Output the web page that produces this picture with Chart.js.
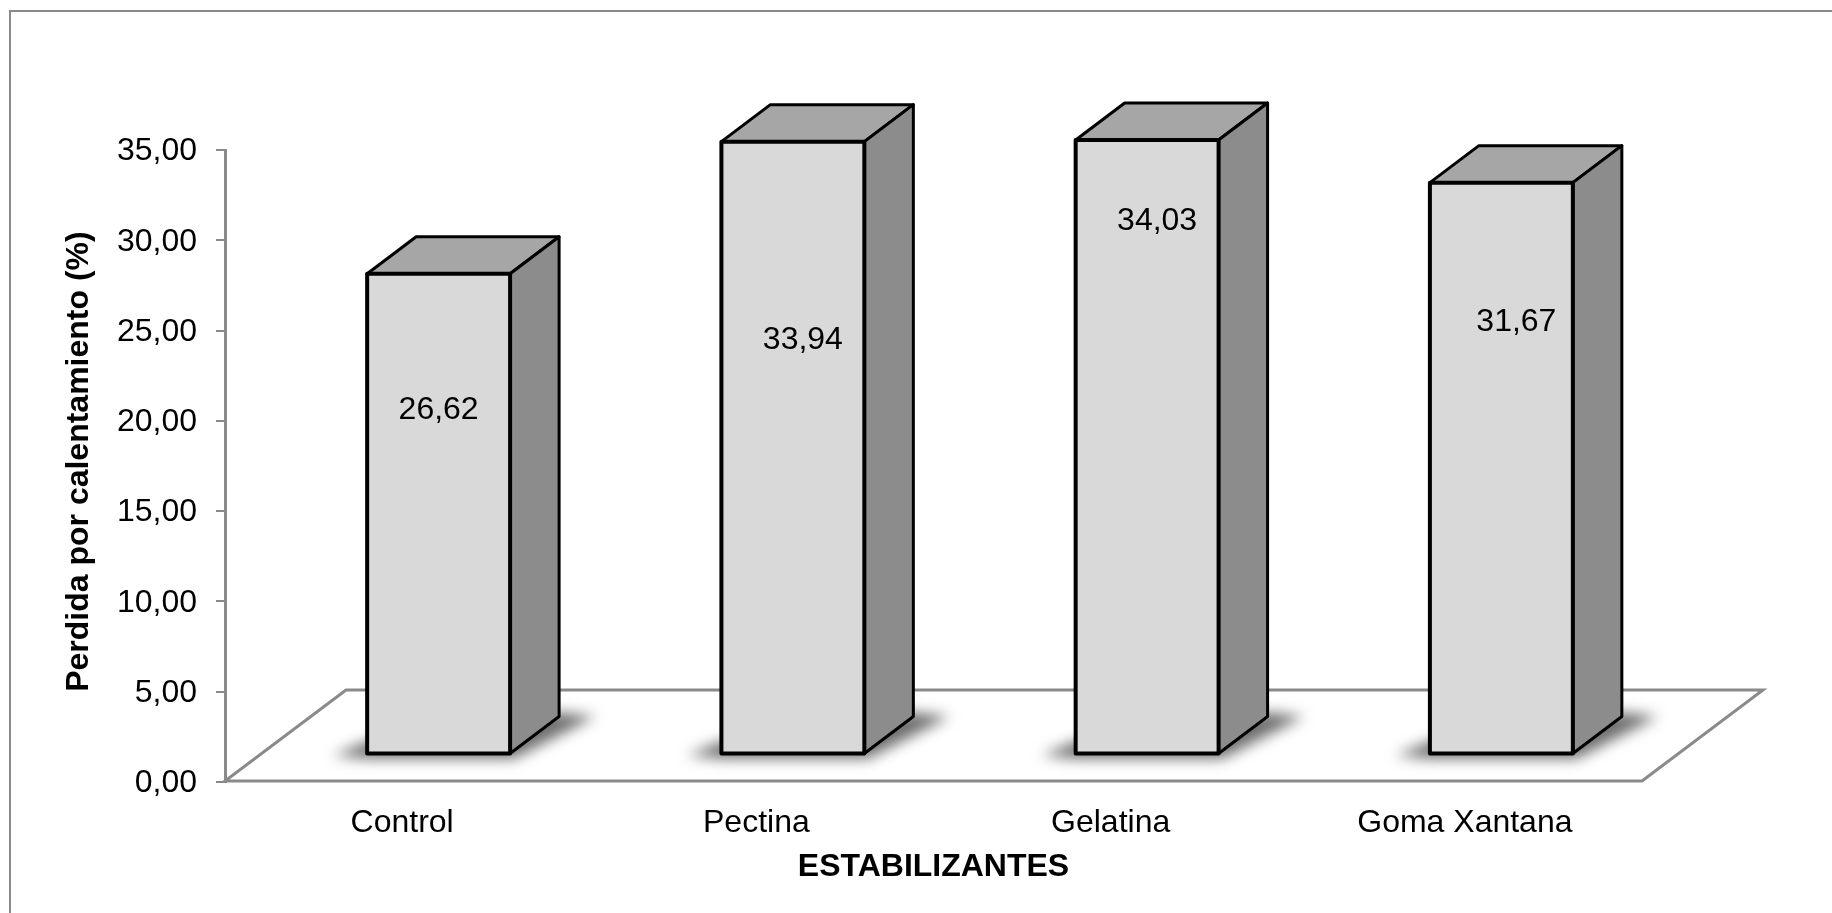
<!DOCTYPE html>
<html lang="es">
<head>
<meta charset="utf-8">
<title>Perdida por calentamiento</title>
<script src="https://cdn.jsdelivr.net/npm/chart.js@4"></script>
<style>
    html, body { margin: 0; padding: 0; background: #fff; }
    canvas { display: block; }
</style>
</head>
<body>
<canvas id="grafico" width="1832" height="913"></canvas>
<script>
// Datos del grafico
const categorias = ['Control', 'Pectina', 'Gelatina', 'Goma Xantana'];
const perdida = [26.62, 33.94, 34.03, 31.67];

// Aspecto seudo 3D de las barras y del piso
const GRIS = '#8a8a8a';
const FUENTE = '"Liberation Sans", Arial, sans-serif';
const desplazaX = 36.5, desplazaY = -27.5;  // la cara frontal queda sobre el piso
const fondoX = 49, fondoY = -37;            // profundidad de cada barra
const pisoX = 121, pisoY = -91;             // profundidad del piso
const etiquetaX = [0, 10, 10, 15];          // corrimiento de cada rotulo de valor
const etiquetaY = [410, 340, 221, 322];     // altura de cada rotulo de valor

const coma = v => v.toFixed(2).replace('.', ',');

function poligono(ctx, puntos) {
    ctx.beginPath();
    puntos.forEach((p, i) => i ? ctx.lineTo(p[0], p[1]) : ctx.moveTo(p[0], p[1]));
    ctx.closePath();
}

// Piso y sombras, por debajo de las barras
const piso = {
    id: 'piso',
    beforeDatasetsDraw(chart) {
        const { ctx, chartArea: a, scales: { y } } = chart;
        const y0 = y.getPixelForValue(0) - 1;

        // marco exterior, solo se ven los lados superior e izquierdo
        ctx.save();
        ctx.strokeStyle = GRIS;
        ctx.lineWidth = 2;
        ctx.beginPath();
        ctx.moveTo(10, 913);
        ctx.lineTo(10, 11);
        ctx.lineTo(1832, 11);
        ctx.stroke();

        ctx.lineWidth = 3;
        ctx.lineJoin = 'miter';
        poligono(ctx, [[a.left, y0], [a.right, y0], [a.right + pisoX, y0 + pisoY], [a.left + pisoX, y0 + pisoY]]);
        ctx.stroke();

        ctx.filter = 'blur(7px)';
        ctx.fillStyle = '#6e6e6e';
        chart.getDatasetMeta(0).data.forEach(b => {
            const izq = b.x - b.width / 2 + desplazaX, der = izq + b.width, base = b.base + desplazaY;
            poligono(ctx, [
                [izq - 34, base + 2], [izq, base - 12], [der + fondoX, base + fondoY - 4],
                [der + fondoX + 36, base + fondoY], [der + 4, base + 5], [izq, base + 5]
            ]);
            ctx.fill();
        });
        ctx.restore();
    }
};

// Caras superior y lateral de cada barra, y la cara frontal movida sobre el piso
const barras3d = {
    id: 'barras3d',
    beforeDatasetDraw(chart) {
        const { ctx } = chart;
        ctx.save();
        ctx.translate(desplazaX, desplazaY);
        ctx.lineWidth = 3;
        ctx.lineJoin = 'round';
        ctx.strokeStyle = '#000';
        chart.getDatasetMeta(0).data.forEach(b => {
            const izq = b.x - b.width / 2, der = b.x + b.width / 2;
            poligono(ctx, [[izq, b.y], [izq + fondoX, b.y + fondoY], [der + fondoX, b.y + fondoY], [der, b.y]]);
            ctx.fillStyle = '#a6a6a6';
            ctx.fill();
            ctx.stroke();
            poligono(ctx, [[der, b.y], [der + fondoX, b.y + fondoY], [der + fondoX, b.base + fondoY], [der, b.base]]);
            ctx.fillStyle = '#8c8c8c';
            ctx.fill();
            ctx.stroke();
        });
    },
    afterDatasetDraw(chart) {
        const { ctx } = chart;
        // contorno de la cara frontal, centrado sobre el borde de la barra
        ctx.lineWidth = 4;
        chart.getDatasetMeta(0).data.forEach(b => {
            ctx.strokeRect(b.x - b.width / 2, b.y, b.width, b.base - b.y);
        });
        ctx.restore();
    },
    afterDatasetsDraw(chart) {
        const { ctx } = chart;
        ctx.save();
        ctx.font = '32px ' + FUENTE;
        ctx.fillStyle = '#000';
        ctx.textAlign = 'center';
        ctx.textBaseline = 'middle';
        chart.getDatasetMeta(0).data.forEach((b, i) => {
            ctx.fillText(coma(perdida[i]), b.x + desplazaX + etiquetaX[i], etiquetaY[i]);
        });
        ctx.restore();
    }
};

new Chart(document.getElementById('grafico'), {
    type: 'bar',
    data: {
        labels: categorias,
        datasets: [{
            data: perdida,
            backgroundColor: '#d9d9d9',
            borderWidth: 0,
            barPercentage: 0.4035,
            categoryPercentage: 1,
            clip: false
        }]
    },
    plugins: [piso, barras3d],
    options: {
        responsive: false,
        animation: false,
        layout: { padding: { left: 60, right: 190, top: 150, bottom: 27 } },
        plugins: { legend: { display: false }, tooltip: { enabled: false } },
        scales: {
            x: {
                afterFit: s => { s.height = 104; },
                grid: { display: false },
                border: { display: false },
                ticks: { color: '#000', font: { family: FUENTE, size: 32 }, padding: 14, maxRotation: 0 },
                title: {
                    display: true,
                    text: 'ESTABILIZANTES',
                    color: '#000',
                    padding: 0,
                    font: { family: FUENTE, size: 32, weight: 'bold' }
                }
            },
            y: {
                min: 0,
                max: 35,
                afterFit: s => { s.width = 165; },
                grid: { drawOnChartArea: false, color: GRIS, lineWidth: 2, tickLength: 9 },
                border: { color: GRIS, width: 3 },
                ticks: {
                    stepSize: 5,
                    color: '#000',
                    padding: 19,
                    labelOffset: 1.5,
                    font: { family: FUENTE, size: 32 },
                    callback: v => coma(v)
                },
                title: {
                    display: true,
                    text: ' Perdida por calentamiento (%)',
                    color: '#000',
                    padding: 0,
                    font: { family: FUENTE, size: 32, weight: 'bold' }
                }
            }
        }
    }
});
</script>
</body>
</html>
